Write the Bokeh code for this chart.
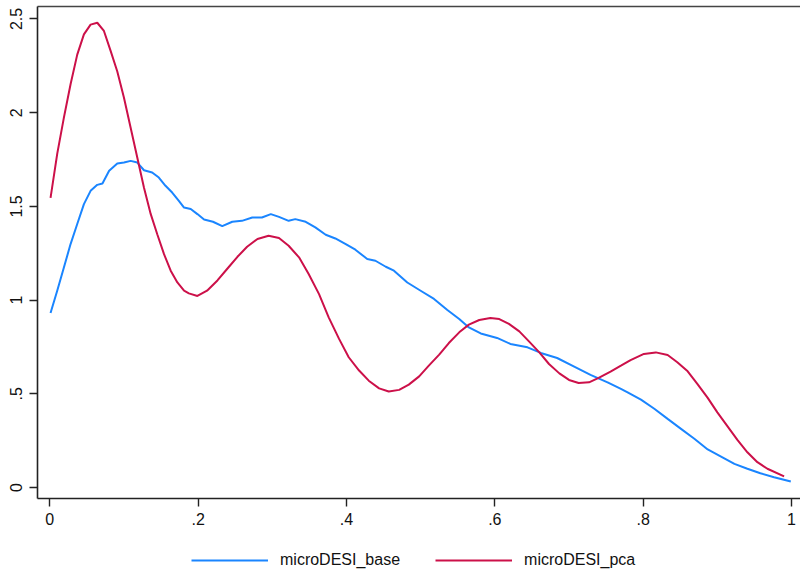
from bokeh.plotting import figure
from bokeh.layouts import column
from bokeh.models import Range1d, LinearAxis, FixedTicker, Legend, LegendItem
from bokeh.embed import file_html
from bokeh.resources import INLINE

# ---- data ----
base_x = [0.001, 0.010, 0.019, 0.028, 0.037, 0.046, 0.055, 0.064, 0.071, 0.080,
          0.091, 0.100, 0.109, 0.118, 0.127, 0.138, 0.147, 0.156, 0.165, 0.174,
          0.181, 0.190, 0.199, 0.208, 0.220, 0.2325, 0.246, 0.259, 0.273, 0.286,
          0.298, 0.309, 0.322, 0.331, 0.345, 0.358, 0.372, 0.385, 0.399, 0.412,
          0.428, 0.439, 0.453, 0.464, 0.482, 0.500, 0.518, 0.536, 0.552, 0.565,
          0.581, 0.603, 0.621, 0.644, 0.662, 0.684, 0.707, 0.729, 0.752, 0.770,
          0.779, 0.797, 0.815, 0.833, 0.851, 0.869, 0.887, 0.905, 0.923, 0.9405,
          0.958, 0.9765, 0.999]
base_y = [0.931, 1.050, 1.174, 1.299, 1.406, 1.512, 1.583, 1.615, 1.622, 1.690,
          1.729, 1.734, 1.743, 1.734, 1.693, 1.681, 1.654, 1.610, 1.574, 1.530,
          1.494, 1.486, 1.459, 1.430, 1.418, 1.395, 1.418, 1.423, 1.441, 1.441,
          1.459, 1.444, 1.423, 1.432, 1.418, 1.388, 1.349, 1.329, 1.299, 1.269,
          1.219, 1.210, 1.178, 1.157, 1.094, 1.050, 1.006, 0.947, 0.899, 0.854,
          0.822, 0.798, 0.766, 0.748, 0.718, 0.691, 0.645, 0.601, 0.561, 0.526,
          0.508, 0.469, 0.420, 0.366, 0.313, 0.260, 0.203, 0.165, 0.126, 0.100,
          0.076, 0.055, 0.032]

pca_x = [0.001, 0.010, 0.019, 0.028, 0.037, 0.046, 0.055, 0.064, 0.073, 0.082,
         0.091, 0.100, 0.109, 0.118, 0.127, 0.136, 0.145, 0.154, 0.163, 0.172,
         0.181, 0.1875, 0.199, 0.212, 0.226, 0.239, 0.253, 0.266, 0.280, 0.295,
         0.309, 0.322, 0.336, 0.349, 0.363, 0.376, 0.390, 0.403, 0.417, 0.430,
         0.444, 0.457, 0.471, 0.484, 0.498, 0.511, 0.525, 0.538, 0.552, 0.565,
         0.579, 0.594, 0.606, 0.619, 0.633, 0.646, 0.660, 0.673, 0.687, 0.700,
         0.713, 0.727, 0.740, 0.756, 0.770, 0.783, 0.801, 0.817, 0.833, 0.846,
         0.860, 0.873, 0.887, 0.900, 0.914, 0.927, 0.9405, 0.954, 0.9675, 0.990]
pca_y = [1.546, 1.780, 1.974, 2.152, 2.310, 2.418, 2.470, 2.480, 2.436, 2.330,
         2.220, 2.080, 1.920, 1.760, 1.600, 1.460, 1.350, 1.245, 1.157, 1.094,
         1.050, 1.036, 1.022, 1.050, 1.105, 1.166, 1.231, 1.285, 1.326, 1.343,
         1.331, 1.290, 1.228, 1.139, 1.032, 0.908, 0.793, 0.695, 0.624, 0.570,
         0.529, 0.512, 0.521, 0.549, 0.593, 0.650, 0.709, 0.771, 0.828, 0.869,
         0.894, 0.905, 0.899, 0.873, 0.833, 0.780, 0.721, 0.659, 0.609, 0.574,
         0.558, 0.561, 0.585, 0.618, 0.650, 0.680, 0.713, 0.721, 0.707, 0.668,
         0.620, 0.553, 0.478, 0.401, 0.325, 0.254, 0.188, 0.135, 0.100, 0.059]

x_ticks = [0, 0.2, 0.4, 0.6, 0.8, 1]
x_tick_labels = {0: "0", 0.2: ".2", 0.4: ".4", 0.6: ".6", 0.8: ".8", 1: "1"}
y_ticks = [0, 0.5, 1, 1.5, 2, 2.5]
y_tick_labels = {0: "0", 0.5: ".5", 1: "1", 1.5: "1.5", 2: "2", 2.5: "2.5"}

series_names = ["microDESI_base", "microDESI_pca"]
series_colors = ["#1a85ff", "#cc1049"]

FONT = "Liberation Sans"
AXIS_COLOR = "#222222"

p = figure(frame_width=763, frame_height=492, output_backend="svg", toolbar_location=None,
           x_range=Range1d(-0.01658, 1.0121), y_range=Range1d(-0.0587, 2.5667),
           min_border_left=37, min_border_right=0, min_border_top=6, min_border_bottom=47)
p.outline_line_color = None
p.background_fill_color = "white"
p.border_fill_color = "white"
p.grid.visible = False

p.line(base_x, base_y, line_color=series_colors[0], line_width=2)
p.line(pca_x, pca_y, line_color=series_colors[1], line_width=2)

for ax in (p.xaxis[0], p.yaxis[0]):
    ax.axis_line_color = AXIS_COLOR
    ax.axis_line_width = 1.6
    ax.major_tick_line_color = AXIS_COLOR
    ax.major_tick_line_width = 1.4
    ax.major_tick_in = 0
    ax.major_tick_out = 8
    ax.minor_tick_line_color = None
    ax.major_label_text_font = FONT
    ax.major_label_text_font_size = "16px"
    ax.major_label_text_color = "#111111"

p.xaxis[0].ticker = FixedTicker(ticks=x_ticks)
p.xaxis[0].major_label_overrides = x_tick_labels
p.xaxis[0].major_label_standoff = 6

p.yaxis[0].ticker = FixedTicker(ticks=y_ticks)
p.yaxis[0].major_label_overrides = y_tick_labels
p.yaxis[0].major_label_orientation = "vertical"
p.yaxis[0].major_label_standoff = 7

top = LinearAxis(ticker=FixedTicker(ticks=[]), axis_line_color="#444444",
                 axis_line_width=1.6, major_tick_out=0, major_tick_in=0,
                 minor_tick_out=0, minor_tick_in=0, major_label_standoff=0)
p.add_layout(top, "above")

# legend strip below the plot (single-point renderers: only their legend glyphs show)
leg_fig = figure(width=800, height=32, output_backend="svg", toolbar_location=None,
                 x_axis_type=None, y_axis_type=None,
                 x_range=Range1d(0, 1), y_range=Range1d(0, 1),
                 min_border_left=0, min_border_right=0, min_border_top=0, min_border_bottom=0)
leg_fig.outline_line_color = None
leg_fig.grid.visible = False
lr1 = leg_fig.line(x=base_x[:1], y=base_y[:1], line_color=series_colors[0], line_width=2)
lr2 = leg_fig.line(x=pca_x[:1], y=pca_y[:1], line_color=series_colors[1], line_width=2)

legend = Legend(items=[LegendItem(label=series_names[0], renderers=[lr1]),
                       LegendItem(label=series_names[1], renderers=[lr2])],
                orientation="horizontal", location=(154, 8),
                border_line_color=None, background_fill_alpha=0,
                glyph_width=77, glyph_height=18, label_height=18,
                label_standoff=12, spacing=35, padding=0, margin=0,
                label_text_font=FONT, label_text_font_size="16px",
                label_text_color="#111111")
leg_fig.add_layout(legend, "center")

layout = column(p, leg_fig, spacing=0)
open("out.html", "w").write(file_html(layout, INLINE))
